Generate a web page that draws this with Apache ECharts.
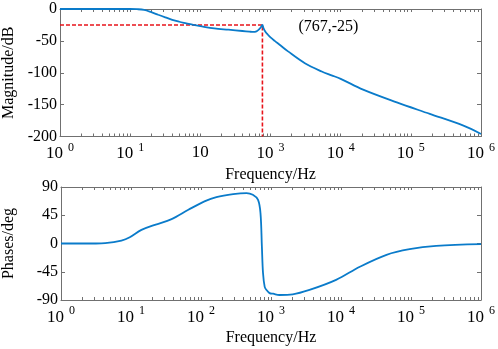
<!DOCTYPE html>
<html><head><meta charset="utf-8">
<script src="https://cdn.jsdelivr.net/npm/echarts@6/dist/echarts.min.js"></script>
<style>html,body{margin:0;padding:0;background:#fff}#c{width:498px;height:349px}</style>
</head><body><div id="c"></div>
<script>
// ---- data ----
const magFreq = [1, 3, 10, 12.6, 15.8, 20, 25.1, 31.6, 39.8, 50.1, 63.1, 79.4, 100, 158, 251, 398, 501, 562, 631, 692, 741, 767, 794, 851, 912, 1000, 1148, 1349, 1778, 3090, 5370, 7413, 10000, 20890, 63100, 186200, 562300, 1000000];
const magDb   = [0, 0, 0, -0.3, -1.5, -5, -9, -13, -17, -20, -22.5, -25, -27, -30.5, -32.5, -34.5, -35.5, -36, -35, -31.5, -27.5, -25, -30, -36, -40, -44.5, -50, -56, -66.5, -85, -98, -104, -109.5, -126.5, -146.5, -164.5, -183, -196];
const phFreq = [1, 3.16, 4.27, 7.3, 9.6, 14.1, 21.9, 38, 66, 112, 166, 288, 447, 550, 653, 708, 741, 769, 813, 861, 955, 1072, 1318, 2042, 3548, 8511, 18620, 44670, 95500, 229000, 1000000];
const phDeg  = [0, 0, 0.5, 4.7, 10, 21.7, 29.7, 38.8, 53.7, 67, 74, 78.8, 80.4, 77.6, 69.6, 48, -5, -47, -69, -74, -79, -80, -82, -81, -74, -58, -37, -18, -9, -3.8, -1];
const peakFreq = [767];
const peakMag = [-25];
const peakLabel = ['(767,-25)'];
const magTickLabels = [['10','0'],['10','1'],['10',''],['10','3'],['10','4'],['10','5'],['10','6']];
const phTickLabels  = [['10','0'],['10','1'],['10','2'],['10','3'],['10','4'],['10','5'],['10','6']];
const decades = [1, 10, 100, 1000, 10000, 100000, 1000000];
const magTicks = [-200, -150, -100, -50, 0];
const phTicks = [-90, -45, 0, 45, 90];

const minorTicks = [];
for (let d = 0; d < 6; d++) for (let k = 1; k <= 9; k++) minorTicks.push(decades[d] * k);
minorTicks.push(1000000);

const FONT = 'Liberation Serif';
const GRAY = '#707070';
const BLUE = '#0a7bca';
const RED = '#e8141b';

function labelFmt(arr) {
  return function (v) {
    const i = Math.round(Math.log10(v));
    const t = arr[i];
    if (!t) return '';
    return '{b|' + t[0] + '}' + (t[1] ? '{s|' + t[1] + '}' : '');
  };
}
const rich = {
  b: {fontFamily: FONT, fontSize: 17, color: '#000', lineHeight: 20, verticalAlign: 'bottom'},
  s: {fontFamily: FONT, fontSize: 12, color: '#000', padding: [0, 0, 9, 5], verticalAlign: 'bottom'}
};

function xAxes(gi, arr, showName) {
  return [
    {type: 'log', logBase: 10, gridIndex: gi, min: 1, max: 1000000, position: 'bottom',
     axisLine: {show: true, onZero: false, lineStyle: {color: GRAY, width: 1}},
     axisTick: {show: true, inside: true, length: 3, customValues: minorTicks, lineStyle: {color: GRAY}},
     axisLabel: {show: true, customValues: decades, formatter: labelFmt(arr), rich: rich, margin: 5},
     splitLine: {show: false},
     name: 'Frequency/Hz', nameLocation: 'middle', nameGap: showName,
     nameTextStyle: {fontFamily: FONT, fontSize: 16, color: '#000'}},
    {type: 'log', logBase: 10, gridIndex: gi, min: 1, max: 1000000, position: 'top',
     axisLine: {show: true, onZero: false, lineStyle: {color: GRAY, width: 1}},
     axisTick: {show: true, inside: true, length: 3, customValues: minorTicks, lineStyle: {color: GRAY}},
     axisLabel: {show: false}, splitLine: {show: false}}
  ];
}
function yAxes(gi, min, max, interval, ticks, name, gap) {
  return [
    {type: 'value', gridIndex: gi, min: min, max: max, interval: interval, position: 'left',
     axisLine: {show: true, onZero: false, lineStyle: {color: GRAY, width: 1}},
     axisTick: {show: true, inside: true, length: 4, lineStyle: {color: GRAY}},
     axisLabel: {show: true, customValues: ticks, fontFamily: FONT, fontSize: 16, color: '#000', margin: 3},
     splitLine: {show: false},
     name: name, nameLocation: 'middle', nameGap: gap,
     nameTextStyle: {fontFamily: FONT, fontSize: 16, color: '#000'}},
    {type: 'value', gridIndex: gi, min: min, max: max, interval: interval, position: 'right',
     axisLine: {show: true, onZero: false, lineStyle: {color: GRAY, width: 1}},
     axisTick: {show: true, inside: true, length: 4, lineStyle: {color: GRAY}},
     axisLabel: {show: false}, splitLine: {show: false}}
  ];
}

const magData = magFreq.map((f, i) => [f, magDb[i]]);
const phData = phFreq.map((f, i) => [f, phDeg[i]]);
const guideData = [[1, peakMag[0]], [peakFreq[0], peakMag[0]], [peakFreq[0], magTicks[0]]];

const chart = echarts.init(document.getElementById('c'), null, {renderer: 'canvas'});
chart.setOption({
  animation: false,
  backgroundColor: '#fff',
  grid: [
    {left: 60, right: 17, top: 9, height: 127.5, outerBoundsMode: 'none', containLabel: false},
    {left: 61, right: 17, top: 187, height: 113, outerBoundsMode: 'none', containLabel: false}
  ],
  xAxis: [].concat(xAxes(0, magTickLabels, 30), xAxes(1, phTickLabels, 30)),
  yAxis: [].concat(yAxes(0, -200, 0, 50, magTicks, 'Magnitude/dB', 43), yAxes(1, -90, 90, 45, phTicks, 'Phases/deg', 44)),
  series: [
    {type: 'line', xAxisIndex: 0, yAxisIndex: 0, data: magData, showSymbol: false, smooth: 0.35,
     lineStyle: {color: BLUE, width: 1.8}, z: 3},
    {type: 'line', xAxisIndex: 0, yAxisIndex: 0, data: guideData, showSymbol: false,
     lineStyle: {color: RED, width: 1.6, type: [4, 2]}, z: 2,
     markPoint: {symbol: 'circle', symbolSize: 0, data: [{coord: [peakFreq[0], peakMag[0]]}],
       label: {show: true, formatter: peakLabel[0], offset: [66, 2], fontFamily: FONT, fontSize: 16, color: '#000'}}},
    {type: 'line', xAxisIndex: 2, yAxisIndex: 2, data: phData, showSymbol: false, smooth: 0.35,
     lineStyle: {color: BLUE, width: 1.8}}
  ]
});
</script></body></html>
